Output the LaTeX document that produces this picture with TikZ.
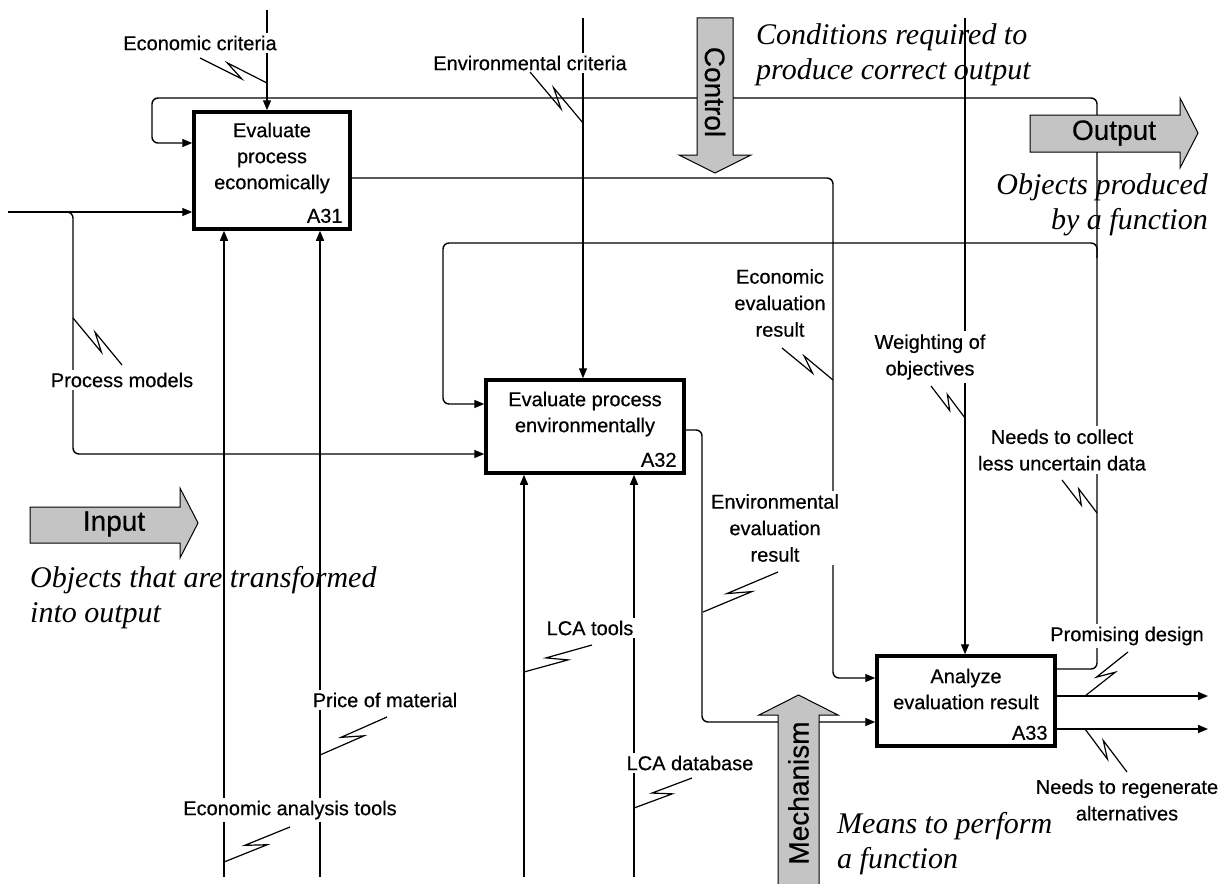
\documentclass[tikz,border=0pt]{standalone}
\usepackage{fontspec}
\setmainfont{Liberation Serif}
\setsansfont{Liberation Sans}
\newfontfamily\heavysans{Liberation Sans}[FakeBold=0.5]
\usetikzlibrary{arrows.meta,calc}

\tikzset{
  cn/.style={line width=1.4pt, rounded corners=6pt},
  cnarr/.style={cn, -{Triangle[length=10pt,width=8pt]}},
  fbox/.style={draw, line width=3.5pt, fill=white, inner sep=0pt},
  ftext/.style={font=\heavysans\fontsize{20}{26}\selectfont, align=center, inner sep=0pt},
  fnum/.style={font=\heavysans\fontsize{20}{24}\selectfont, inner sep=0pt, anchor=base east},
  lbl/.style={font=\heavysans\fontsize{20}{26.5}\selectfont, align=center, fill=white, inner sep=3pt},
  note/.style={font=\rmfamily\itshape\fontsize{30}{35}\selectfont, inner sep=0pt},
  blk/.style={draw, line width=1pt, fill=black!23, line join=miter},
  blktext/.style={font=\heavysans\fontsize{28}{30}\selectfont, inner sep=0pt},
  sq/.style={line width=1.2pt, line join=miter},
}
% lightning-shaped squiggle tying a label to its arrow
\newcommand\squig[2]{\draw[sq] (#1) -- ($(#1)!0.65!(#2)!5pt!-90:(#2)$) -- ($(#1)!0.38!(#2)!5pt!90:(#2)$) -- (#2);}

\begin{document}
\begin{tikzpicture}[x=1pt,y=-1pt]
\useasboundingbox (0,0) rectangle (1230,883);
\fill[white] (0,0) rectangle (1230,883);

% activity boxes
\node[fbox, minimum width=156, minimum height=117] (a31) at (272,170.5) {};
\node[fbox, minimum width=198, minimum height=93] (a32) at (585,426.5) {};
\node[fbox, minimum width=178, minimum height=90] (a33) at (966,701) {};

\node[ftext] (a31t) at (272,158) {Evaluate\\process\\economically};
\node[ftext] (a32t) at (585,414) {Evaluate process\\environmentally};
\node[ftext] (a33t) at (966,689) {Analyze\\evaluation result};
\node[fnum] (a31n) at ($(a31.south east)+(-9,-8)$) {A31};
\node[fnum] (a32n) at ($(a32.south east)+(-9,-8)$) {A32};
\node[fnum] (a33n) at ($(a33.south east)+(-9,-8)$) {A33};

% free ends and bends of the arrows
\coordinate (ec) at (267,10);
\coordinate (envc) at (583,18);
\coordinate (wt) at (965,18);
\coordinate (pin) at (8,212);
\coordinate (pbr) at (60,212);
\coordinate (pc1) at (73,212);
\coordinate (pc2) at (73,454);
\coordinate (m1) at (224,877);
\coordinate (m2) at (320,877);
\coordinate (m3) at (524,877);
\coordinate (m4) at (634,877);
\coordinate (o1a) at (833,178);
\coordinate (o1b) at (833,678);
\coordinate (o2a) at (702,430);
\coordinate (o2b) at (702,722);
\coordinate (fb1) at (1097,669);
\coordinate (fb2) at (1097,98);
\coordinate (fb3) at (152,98);
\coordinate (fb4) at (152,143);
\coordinate (fb5) at (1097,258);
\coordinate (fb6) at (1097,243);
\coordinate (fb7) at (443,243);
\coordinate (fb8) at (443,404);
\coordinate (out1) at (1208,696);
\coordinate (out2) at (1208,729);

% controls
\draw[cnarr] (ec) -- (ec |- a31.north);
\draw[cnarr] (envc) -- (envc |- a32.north);
\draw[cnarr] (wt) -- (wt |- a33.north);
% inputs
\draw[cnarr] (pin) -- (pin -| a31.west);
\draw[cnarr] (pbr) -- (pc1) -- (pc2) -- (pc2 -| a32.west);
% mechanisms
\draw[cnarr] (m1) -- (m1 |- a31.south);
\draw[cnarr] (m2) -- (m2 |- a31.south);
\draw[cnarr] (m3) -- (m3 |- a32.south);
\draw[cnarr] (m4) -- (m4 |- a32.south);
% outputs between activities
\draw[cnarr] (a31.east |- o1a) -- (o1a) -- (o1b) -- (o1b -| a33.west);
\draw[cnarr] (a32.east |- o2a) -- (o2a) -- (o2b) -- (o2b -| a33.west);
% feedback
\draw[cnarr] (a33.east |- fb1) -- (fb1) -- (fb2) -- (fb3) -- (fb4) -- (fb4 -| a31.west);
\draw[cnarr] (fb5) -- (fb6) -- (fb7) -- (fb8) -- (fb8 -| a32.west);
% final outputs
\draw[cnarr] (a33.east |- out1) -- (out1);
\draw[cnarr] (a33.east |- out2) -- (out2);

% arrow labels
\node[lbl] (l1) at (200,43) {Economic criteria};
\node[lbl] (l2) at (530,63) {Environmental criteria};
\node[lbl] (l3) at (122,380) {Process models};
\node[lbl] (l4) at (385,700) {Price of material};
\node[lbl] (l5) at (290,810) {Economic analysis tools};
\node[lbl] (l6) at (590,628) {LCA tools};
\node[lbl] (l7) at (690,763) {LCA database};
\node[lbl] (l8) at (780,303) {Economic\\evaluation\\result};
\node[lbl] (l9) at (775,528) {Environmental\\evaluation\\result};
\node[lbl] (l10) at (930,357) {Weighting of\\objectives};
\node[lbl] (l11) at (1062,450) {Needs to collect\\less uncertain data};
\node[lbl] (l12) at (1127,636) {Promising design};
\node[lbl] (l13) at (1127,800) {Needs to regenerate\\alternatives};

% squiggles
\coordinate (q1a) at (200,58);   \coordinate (q1b) at (267,83);
\coordinate (q2a) at (530,72);   \coordinate (q2b) at (583,123);
\coordinate (q3a) at (73,318);   \coordinate (q3b) at (122,365);
\coordinate (q4a) at (387,717);  \coordinate (q4b) at (320,755);
\coordinate (q5a) at (290,827);  \coordinate (q5b) at (224,862);
\coordinate (q6a) at (592,645);  \coordinate (q6b) at (524,672);
\coordinate (q7a) at (692,778);  \coordinate (q7b) at (634,808);
\coordinate (q8a) at (782,348);  \coordinate (q8b) at (833,380);
\coordinate (q9a) at (778,572);  \coordinate (q9b) at (703,612);
\coordinate (q10a) at (931,386); \coordinate (q10b) at (965,418);
\coordinate (q11a) at (1062,480); \coordinate (q11b) at (1097,513);
\coordinate (q12a) at (1128,652); \coordinate (q12b) at (1085,696);
\coordinate (q13a) at (1127,772); \coordinate (q13b) at (1085,729);
\squig{q1a}{q1b}
\squig{q2a}{q2b}
\squig{q3a}{q3b}
\squig{q4a}{q4b}
\squig{q5a}{q5b}
\squig{q6a}{q6b}
\squig{q7a}{q7b}
\squig{q8a}{q8b}
\squig{q9a}{q9b}
\squig{q10a}{q10b}
\squig{q11a}{q11b}
\squig{q12a}{q12b}
\squig{q13a}{q13b}

% explanatory notes
\node[note, align=left, anchor=west] (n1) at (756,55) {Conditions required to\\produce correct output};
\node[note, align=right, anchor=east] (n2) at (1208,205) {Objects produced\\by a function};
\node[note, align=left, anchor=west] (n3) at (30,598) {Objects that are transformed\\into output};
\node[note, align=left, anchor=west] (n4) at (837,844) {Means to perform\\a function};

% ICOM block arrows
\draw[blk] (697,18) -- (733,18) -- (733,155) -- (751,155) -- (715,173) -- (679,155) -- (697,155) -- cycle;
\node[blktext, rotate=-90] (bc) at (715,92) {Control};
\draw[blk] (1030,115) -- (1180,115) -- (1180,98) -- (1198,133) -- (1180,168) -- (1180,152) -- (1030,152) -- cycle;
\node[blktext] (bo) at (1114,133) {Output};
\draw[blk] (30,507) -- (180,507) -- (180,488) -- (198,523) -- (180,558) -- (180,543) -- (30,543) -- cycle;
\node[blktext] (bi) at (114,524) {Input};
\draw[blk] (778,900) -- (778,715) -- (759,715) -- (798.5,695) -- (838,715) -- (819,715) -- (819,900) -- cycle;
\node[blktext, rotate=90] (bm) at (798.5,793) {Mechanism};
\end{tikzpicture}
\end{document}
